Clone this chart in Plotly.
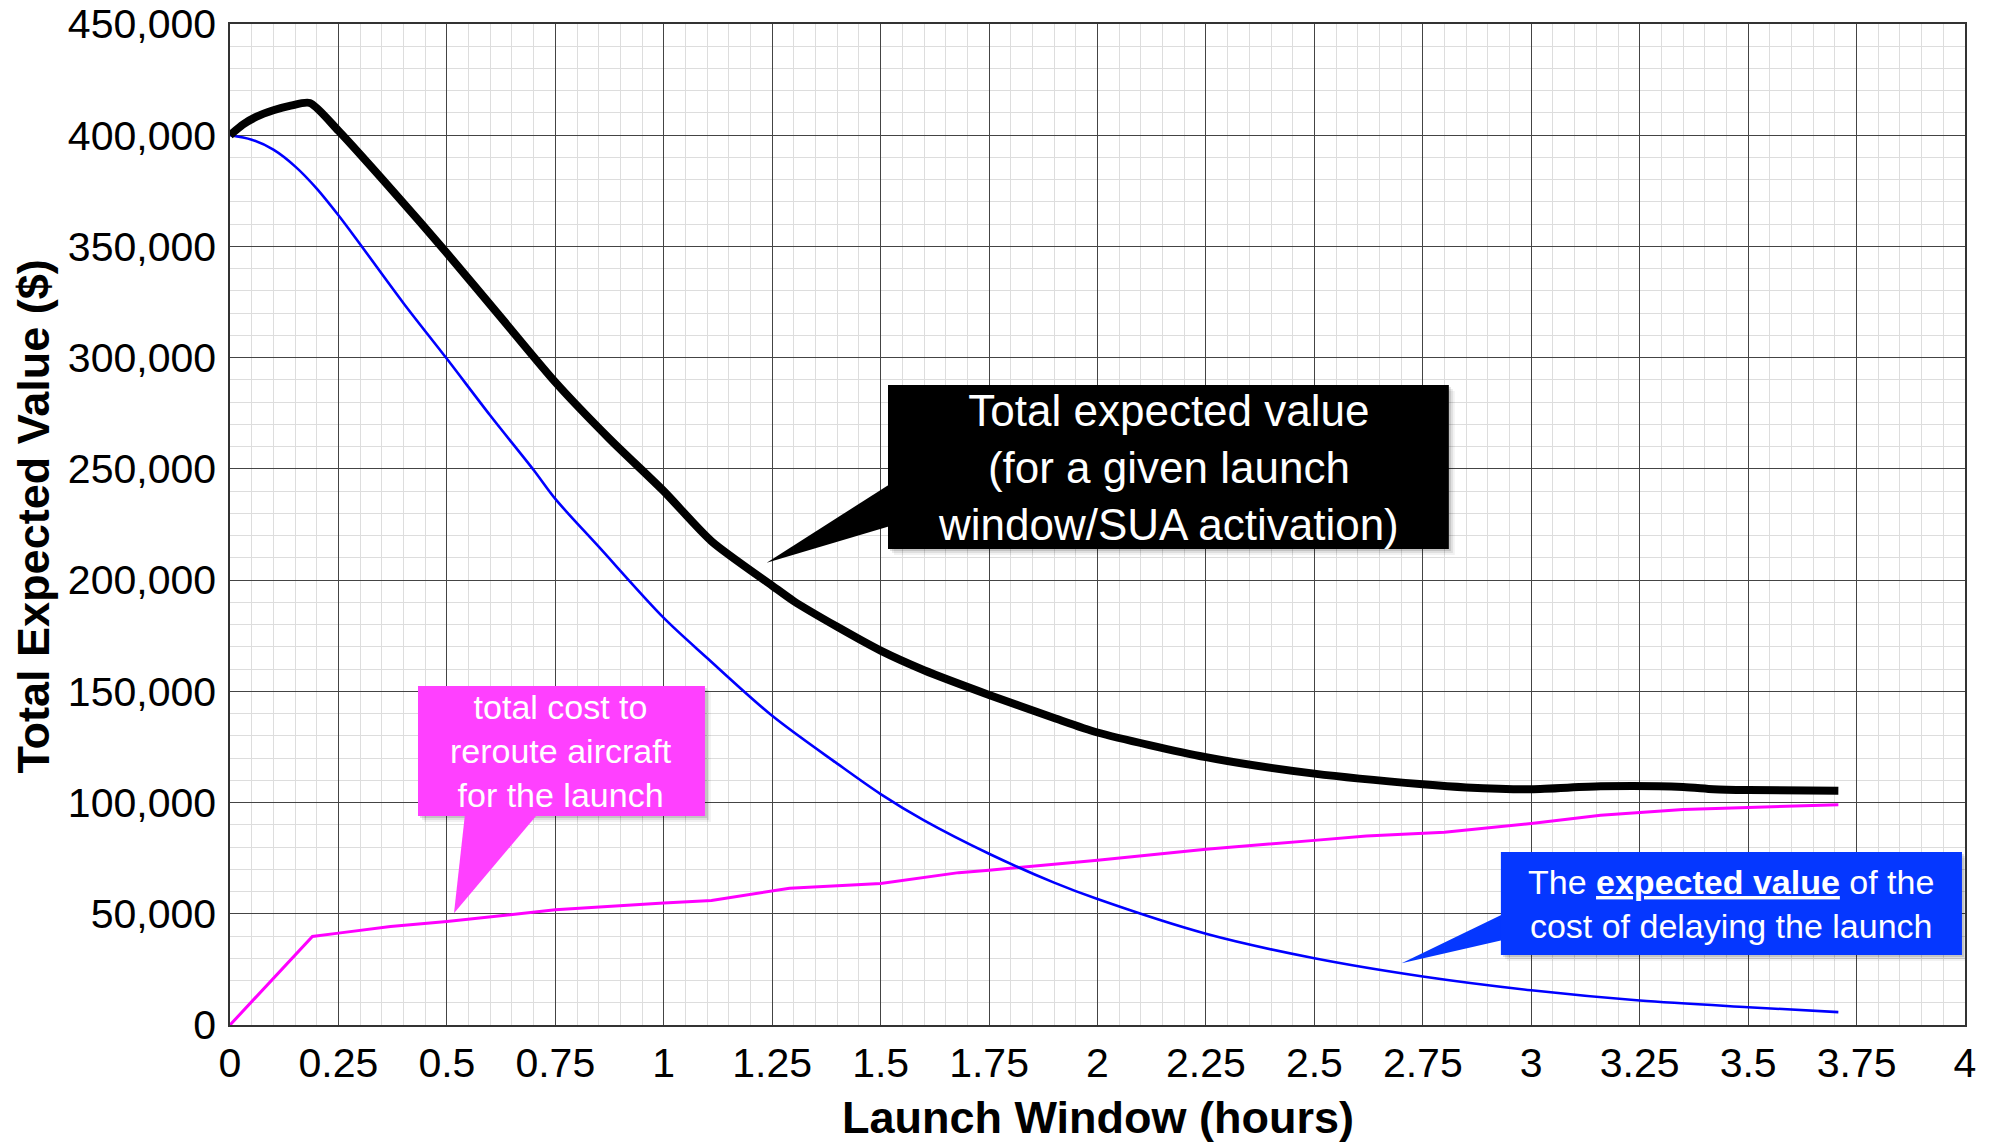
import plotly.graph_objects as go

# ---- data -----------------------------------------------------------------
# Total expected value for a given launch window / SUA activation
total_hours = [0, 0.03, 0.06, 0.1, 0.14, 0.184, 0.25, 0.375, 0.5, 0.625, 0.75,
               0.875, 1.0, 1.11, 1.25, 1.3, 1.4, 1.5, 1.6, 1.75, 1.9, 2.0,
               2.25, 2.5, 2.75, 2.85, 3.0, 3.16, 3.35, 3.42, 3.5, 3.708]
total_value = [400000, 404800, 408200, 411200, 413300, 414500, 402000, 375000,
               347000, 318000, 289000, 263500, 240000, 217500, 197500, 190500,
               179000, 168300, 159500, 148400, 138000, 131500, 120400, 113000,
               108200, 106800, 106000, 107300, 107000, 106000, 105600, 105300]

# Expected value of the cost of delaying the launch
delay_hours = [0, 0.05, 0.1, 0.15, 0.2, 0.25, 0.3, 0.4, 0.5, 0.6, 0.7, 0.75,
               0.85, 1.0, 1.1, 1.25, 1.4, 1.5, 1.6, 1.75, 1.9, 2.0, 2.25, 2.5,
               2.75, 3.0, 3.25, 3.5, 3.708]
delay_value = [400000, 398000, 393500, 386000, 376000, 364000, 351000, 324500,
               299500, 274000, 249500, 236500, 215000, 183000, 165000, 139000,
               117500, 103800, 92000, 77000, 64000, 56600, 41000, 30000, 21800,
               15600, 11000, 8000, 5800]

# Total cost to reroute aircraft for the launch
reroute_hours = [0, 0.19, 0.25, 0.37, 0.5, 0.55, 0.75, 1.0, 1.11, 1.29, 1.5,
                 1.68, 1.75, 2.0, 2.25, 2.5, 2.62, 2.8, 3.0, 3.16, 3.35, 3.5,
                 3.708]
reroute_cost = [0, 39800, 41300, 44300, 46500, 47500, 51800, 54800, 56000,
                61500, 63600, 68500, 69600, 74100, 79000, 83000, 85000, 86700,
                90600, 94300, 96900, 97800, 99000]

x_tick_vals = [0, 0.25, 0.5, 0.75, 1, 1.25, 1.5, 1.75, 2, 2.25, 2.5, 2.75,
               3, 3.25, 3.5, 3.75, 4]
x_tick_text = ["0", "0.25", "0.5", "0.75", "1", "1.25", "1.5", "1.75", "2",
               "2.25", "2.5", "2.75", "3", "3.25", "3.5", "3.75", "4"]

FONT = "Liberation Sans, Arial, Helvetica, sans-serif"

fig = go.Figure()

fig.add_trace(go.Scatter(x=reroute_hours, y=reroute_cost, mode="lines",
                         line=dict(color="#FF00FF", width=3),
                         name="Reroute cost", hoverinfo="skip"))
fig.add_trace(go.Scatter(x=delay_hours, y=delay_value, mode="lines",
                         line=dict(color="#0000FF", width=2.6,
                                   shape="spline", smoothing=0.9),
                         name="Delay cost", hoverinfo="skip"))
fig.add_trace(go.Scatter(x=total_hours, y=total_value, mode="lines",
                         line=dict(color="#000000", width=8,
                                   shape="spline", smoothing=0.7),
                         name="Total expected value", hoverinfo="skip"))

# ---- callouts (box + pointer wedge + soft shadow) -------------------------
def px_x(dx):
    return dx / 433.75


def px_y(dy):
    return dy * 449.55


def callout(x0, x1, y0, y1, wedge, color):
    # shadow
    for off, alpha in ((6, 0.05), (4, 0.08), (2, 0.12)):
        fig.add_shape(type="rect", x0=x0 + px_x(off), x1=x1 + px_x(off),
                      y0=y0 - px_y(off), y1=y1 - px_y(off),
                      xref="x", yref="y", layer="above",
                      line=dict(width=0), fillcolor=f"rgba(0,0,0,{alpha})")
    (ax, ay), (bx, by), (tx, ty) = wedge
    fig.add_shape(type="path",
                  path=f"M {ax},{ay} L {tx},{ty} L {bx},{by} Z",
                  xref="x", yref="y", layer="above",
                  line=dict(width=0), fillcolor=color)
    fig.add_shape(type="rect", x0=x0, x1=x1, y0=y0, y1=y1,
                  xref="x", yref="y", layer="above",
                  line=dict(width=0), fillcolor=color)


callout(1.517, 2.810, 214000, 287700,
        ((1.53, 244250), (1.53, 224800), (1.2373, 207800)), "#000000")
callout(0.4334, 1.095, 93960, 152400,
        ((0.5418, 95000), (0.710, 95000), (0.5164, 50200)), "#FF40FF")
callout(2.930, 3.993, 31470, 77770,
        ((2.945, 50800), (2.945, 38660), (2.701, 27740)), "#0537FF")

fig.add_annotation(x=(1.517 + 2.810) / 2, y=(214000 + 287700) / 2,
                   xref="x", yref="y", showarrow=False,
                   text="Total expected value<br>(for a given launch<br>window/SUA activation)",
                   font=dict(family=FONT, size=44, color="white"),
                   align="center", xanchor="center", yanchor="middle")
fig.add_annotation(x=(0.4334 + 1.095) / 2, y=(93960 + 152400) / 2,
                   xref="x", yref="y", showarrow=False,
                   text="total cost to<br>reroute aircraft<br>for the launch",
                   font=dict(family=FONT, size=34, color="white"),
                   align="center", xanchor="center", yanchor="middle")
fig.add_annotation(x=(2.930 + 3.993) / 2, y=(31470 + 77770) / 2,
                   xref="x", yref="y", showarrow=False,
                   text="The <b><u>expected value</u></b> of the<br>cost of delaying the launch",
                   font=dict(family=FONT, size=34, color="white"),
                   align="center", xanchor="center", yanchor="middle")

# ---- axis titles ----------------------------------------------------------
fig.add_annotation(x=0.5, y=-0.0923, xref="paper", yref="paper",
                   showarrow=False, text="<b>Launch Window (hours)</b>",
                   font=dict(family=FONT, size=45, color="black"),
                   xanchor="center", yanchor="middle")
fig.add_annotation(x=-0.1135, y=0.508, xref="paper", yref="paper",
                   showarrow=False, text="<b>Total Expected Value ($)</b>",
                   textangle=-90,
                   font=dict(family=FONT, size=45, color="black"),
                   xanchor="center", yanchor="middle")

fig.update_xaxes(range=[0, 4], tickvals=x_tick_vals, ticktext=x_tick_text,
                 showgrid=True, gridcolor="#444444", gridwidth=1.2,
                 minor=dict(dtick=0.05, showgrid=True, gridcolor="#DDDDDD",
                            gridwidth=1),
                 showline=True, linecolor="#333333", linewidth=1.5, mirror=True,
                 ticks="", zeroline=False,
                 tickfont=dict(family=FONT, size=41, color="black"),
                 ticklabelstandoff=1)
fig.update_yaxes(range=[0, 450000], dtick=50000, tick0=0, tickformat=",d",
                 showgrid=True, gridcolor="#444444", gridwidth=1.2,
                 minor=dict(dtick=10000, showgrid=True, gridcolor="#DDDDDD",
                            gridwidth=1),
                 showline=True, linecolor="#333333", linewidth=1.5, mirror=True,
                 ticks="", zeroline=False,
                 tickfont=dict(family=FONT, size=41, color="black"),
                 ticklabelstandoff=4)

fig.update_layout(width=1994, height=1142,
                  margin=dict(l=230, r=29, t=24, b=117, autoexpand=False),
                  paper_bgcolor="white", plot_bgcolor="white",
                  showlegend=False, font=dict(family=FONT))

fig.write_html("out.html", config={"displayModeBar": False})
